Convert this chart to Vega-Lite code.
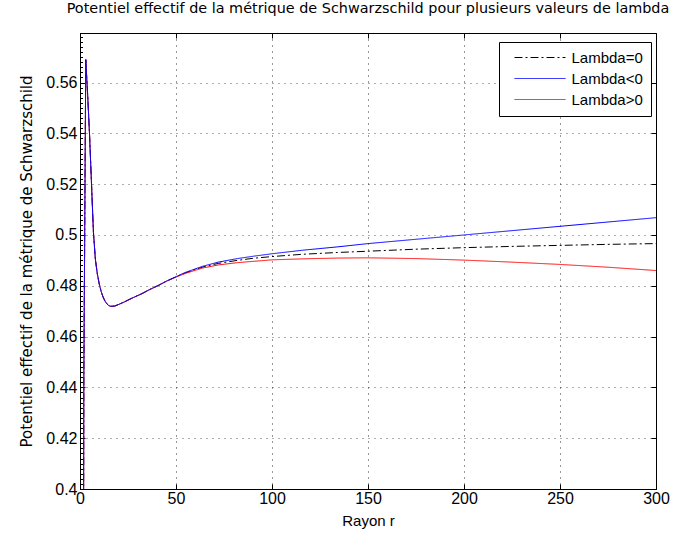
{
  "$schema": "https://vega.github.io/schema/vega-lite/v6.json",
  "width": 576,
  "height": 456,
  "autosize": "none",
  "padding": {"left": 80, "top": 33, "right": 17, "bottom": 54},
  "background": "white",
  "title": {"text": "Potentiel effectif de la métrique de Schwarzschild pour plusieurs valeurs de lambda", "font": "DejaVu Sans", "fontSize": 14.4, "fontWeight": "normal", "color": "black", "offset": 12, "anchor": "middle", "limit": 0},
  "config": {
    "view": {"stroke": "black", "strokeWidth": 1},
    "axis": {"labelFont": "Liberation Sans", "labelFontSize": 16, "labelColor": "black", "titleFont": "DejaVu Sans", "titleFontSize": 15, "titleFontWeight": "normal", "titleColor": "black", "domainColor": "black", "tickColor": "black", "gridColor": "black", "gridDash": [1, 5], "gridOpacity": 0.8}
  },
  "data": {"values": [
    {"r": 1, "Lambda=0": 0.0, "Lambda<0": 0.0, "Lambda>0": 0.0},
    {"r": 2, "Lambda=0": 0.444, "Lambda<0": 0.444, "Lambda>0": 0.444},
    {"r": 3, "Lambda=0": 0.569, "Lambda<0": 0.569, "Lambda>0": 0.569},
    {"r": 4, "Lambda=0": 0.555, "Lambda<0": 0.555, "Lambda>0": 0.555},
    {"r": 5, "Lambda=0": 0.539, "Lambda<0": 0.539, "Lambda>0": 0.539},
    {"r": 6, "Lambda=0": 0.52, "Lambda<0": 0.52, "Lambda>0": 0.52},
    {"r": 7, "Lambda=0": 0.501, "Lambda<0": 0.501, "Lambda>0": 0.501},
    {"r": 8, "Lambda=0": 0.4905, "Lambda<0": 0.4905, "Lambda>0": 0.4905},
    {"r": 9, "Lambda=0": 0.4848, "Lambda<0": 0.4848, "Lambda>0": 0.4848},
    {"r": 10, "Lambda=0": 0.4808, "Lambda<0": 0.4808, "Lambda>0": 0.4808},
    {"r": 11, "Lambda=0": 0.4778, "Lambda<0": 0.4778, "Lambda>0": 0.4778},
    {"r": 12, "Lambda=0": 0.4756, "Lambda<0": 0.4756, "Lambda>0": 0.4756},
    {"r": 13, "Lambda=0": 0.4740, "Lambda<0": 0.4740, "Lambda>0": 0.4740},
    {"r": 14, "Lambda=0": 0.4729, "Lambda<0": 0.4729, "Lambda>0": 0.4729},
    {"r": 15, "Lambda=0": 0.4722, "Lambda<0": 0.4722, "Lambda>0": 0.4722},
    {"r": 16, "Lambda=0": 0.4719, "Lambda<0": 0.4719, "Lambda>0": 0.4719},
    {"r": 18, "Lambda=0": 0.4720, "Lambda<0": 0.4720, "Lambda>0": 0.4720},
    {"r": 20, "Lambda=0": 0.4726, "Lambda<0": 0.4726, "Lambda>0": 0.4726},
    {"r": 23, "Lambda=0": 0.4736, "Lambda<0": 0.4736, "Lambda>0": 0.4736},
    {"r": 27, "Lambda=0": 0.4751, "Lambda<0": 0.4751, "Lambda>0": 0.4751},
    {"r": 32, "Lambda=0": 0.4768, "Lambda<0": 0.4768, "Lambda>0": 0.4768},
    {"r": 36, "Lambda=0": 0.4784, "Lambda<0": 0.4784, "Lambda>0": 0.4784},
    {"r": 41, "Lambda=0": 0.4802, "Lambda<0": 0.4802, "Lambda>0": 0.4802},
    {"r": 45, "Lambda=0": 0.4818, "Lambda<0": 0.4818, "Lambda>0": 0.4818},
    {"r": 50, "Lambda=0": 0.4835, "Lambda<0": 0.4836, "Lambda>0": 0.4834},
    {"r": 55, "Lambda=0": 0.4851, "Lambda<0": 0.4853, "Lambda>0": 0.4849},
    {"r": 64, "Lambda=0": 0.4874, "Lambda<0": 0.4877, "Lambda>0": 0.4870},
    {"r": 72, "Lambda=0": 0.4888, "Lambda<0": 0.4893, "Lambda>0": 0.4882},
    {"r": 82, "Lambda=0": 0.4900, "Lambda<0": 0.4907, "Lambda>0": 0.4891},
    {"r": 90, "Lambda=0": 0.4908, "Lambda<0": 0.4916, "Lambda>0": 0.4896},
    {"r": 100, "Lambda=0": 0.4915, "Lambda<0": 0.4926, "Lambda>0": 0.4902},
    {"r": 116, "Lambda=0": 0.4924, "Lambda<0": 0.4940, "Lambda>0": 0.4906},
    {"r": 134, "Lambda=0": 0.4931, "Lambda<0": 0.4953, "Lambda>0": 0.4909},
    {"r": 150, "Lambda=0": 0.4936, "Lambda<0": 0.4966, "Lambda>0": 0.4910},
    {"r": 175, "Lambda=0": 0.4944, "Lambda<0": 0.4983, "Lambda>0": 0.4907},
    {"r": 200, "Lambda=0": 0.4950, "Lambda<0": 0.5000, "Lambda>0": 0.4901},
    {"r": 225, "Lambda=0": 0.4955, "Lambda<0": 0.5017, "Lambda>0": 0.4893},
    {"r": 250, "Lambda=0": 0.4959, "Lambda<0": 0.5034, "Lambda>0": 0.4884},
    {"r": 275, "Lambda=0": 0.4963, "Lambda<0": 0.5051, "Lambda>0": 0.4873},
    {"r": 300, "Lambda=0": 0.4966, "Lambda<0": 0.5068, "Lambda>0": 0.4860}
  ]},
  "transform": [{"fold": ["Lambda=0", "Lambda>0", "Lambda<0"], "as": ["serie", "v"]}],
  "layer": [
    {
      "mark": {"type": "line", "strokeWidth": 1, "clip": true},
      "encoding": {
        "x": {"field": "r", "type": "quantitative", "scale": {"domain": [0, 300], "nice": false},
          "axis": {"orient": "bottom", "title": "Rayon r", "titleFont": "Liberation Sans", "values": [0, 50, 100, 150, 200, 250, 300], "grid": true, "tickSize": -5, "labelPadding": 6, "titlePadding": 7, "labelFlush": false, "labelOverlap": false}},
        "y": {"field": "v", "type": "quantitative", "scale": {"domain": [0.4, 0.5795], "nice": false, "zero": false},
          "axis": {"orient": "left", "title": "Potentiel effectif de la métrique de Schwarzschild",
            "values": [0.4, 0.402, 0.404, 0.406, 0.408, 0.41, 0.412, 0.414, 0.416, 0.418, 0.42, 0.422, 0.424, 0.426, 0.428, 0.43, 0.432, 0.434, 0.436, 0.438, 0.44, 0.442, 0.444, 0.446, 0.448, 0.45, 0.452, 0.454, 0.456, 0.458, 0.46, 0.462, 0.464, 0.466, 0.468, 0.47, 0.472, 0.474, 0.476, 0.478, 0.48, 0.482, 0.484, 0.486, 0.488, 0.49, 0.492, 0.494, 0.496, 0.498, 0.5, 0.502, 0.504, 0.506, 0.508, 0.51, 0.512, 0.514, 0.516, 0.518, 0.52, 0.522, 0.524, 0.526, 0.528, 0.53, 0.532, 0.534, 0.536, 0.538, 0.54, 0.542, 0.544, 0.546, 0.548, 0.55, 0.552, 0.554, 0.556, 0.558, 0.56, 0.562, 0.564, 0.566, 0.568, 0.57, 0.572, 0.574, 0.576, 0.578],
            "labelExpr": "abs(datum.value*50 - round(datum.value*50)) < 0.001 ? format(datum.value, '.2~f') : ''",
            "grid": true,
            "gridOpacity": {"condition": {"test": "abs(datum.value*50 - round(datum.value*50)) < 0.001", "value": 0.8}, "value": 0},
            "tickSize": {"condition": {"test": "abs(datum.value*50 - round(datum.value*50)) < 0.001", "value": -5}, "value": -2.5},
            "labelPadding": 8, "titlePadding": 11, "labelOverlap": false, "labelFlush": false}},
        "color": {"field": "serie", "type": "nominal", "scale": {"domain": ["Lambda=0", "Lambda<0", "Lambda>0"], "range": ["#000000", "#0000ff", "#ff0000"]},
          "legend": {"orient": "none", "legendX": 419, "legendY": 9, "title": null, "strokeColor": "black", "fillColor": "white", "padding": 8, "labelFont": "Liberation Sans", "labelFontSize": 15, "labelColor": "black", "symbolType": "M-25.5,0H25.5", "symbolSize": 4, "symbolStrokeWidth": 1, "symbolOffset": 25.5, "labelOffset": 24, "rowPadding": 5, "cornerRadius": 0}},
        "strokeDash": {"field": "serie", "type": "nominal", "scale": {"domain": ["Lambda=0", "Lambda<0", "Lambda>0"], "range": [[8, 3, 2, 3], [1, 0], [1, 0]]},
          "legend": {"orient": "none", "legendX": 419, "legendY": 9, "title": null, "strokeColor": "black", "fillColor": "white", "padding": 8, "labelFont": "Liberation Sans", "labelFontSize": 15, "labelColor": "black", "symbolType": "M-25.5,0H25.5", "symbolSize": 4, "symbolStrokeWidth": 1, "symbolOffset": 25.5, "labelOffset": 24, "rowPadding": 5, "cornerRadius": 0}}
      }
    },
    {
      "mark": {"type": "point", "opacity": 0},
      "encoding": {
        "x": {"field": "r", "type": "quantitative", "axis": {"orient": "top", "title": null, "values": [0, 50, 100, 150, 200, 250, 300], "labels": false, "domain": false, "grid": false, "tickSize": -5}},
        "y": {"field": "v", "type": "quantitative", "axis": {"orient": "right", "title": null, "values": [0.4, 0.42, 0.44, 0.46, 0.48, 0.5, 0.52, 0.54, 0.56], "labels": false, "domain": false, "grid": false, "tickSize": -5}}
      }
    }
  ],
  "resolve": {"axis": {"x": "independent", "y": "independent"}}
}
